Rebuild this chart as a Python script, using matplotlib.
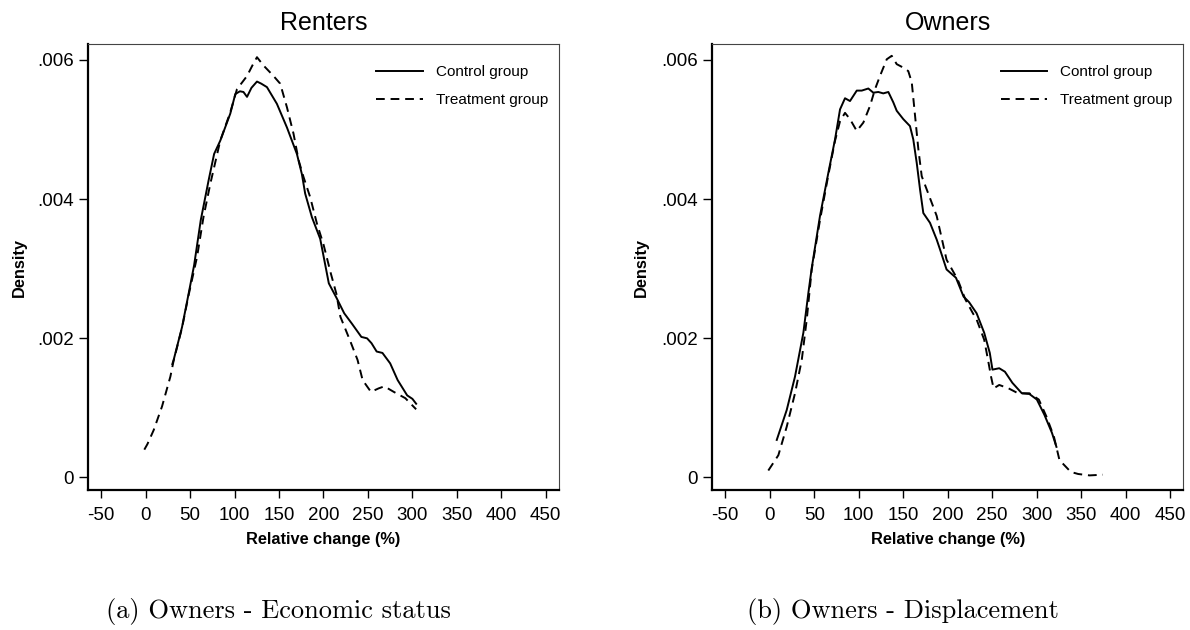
import matplotlib.pyplot as plt
import matplotlib.ticker as ticker

# ===== Kernel density curves: relative change (%) vs density =====
rent_ctrl_x = [30, 31.5, 40.9, 48.3, 54.5, 62, 70.8, 77, 83.9, 95.2, 100.8, 106, 110, 114,
               119, 125.2, 130, 136.4, 147.6, 158.9, 170.1, 175.7, 179.4, 187, 196.3, 206,
               214.7, 223.3, 232, 242.6, 249, 254, 259.8, 266.3, 275, 283.4, 294.1, 300, 304.2]
rent_ctrl_y = [0.00163, 0.00169, 0.00216, 0.00264, 0.00305, 0.00370, 0.00427, 0.00465, 0.00484,
               0.00523, 0.00551, 0.00555, 0.00554, 0.00547, 0.00560, 0.00569, 0.00566, 0.00561,
               0.00537, 0.00503, 0.00465, 0.00436, 0.00408, 0.00374, 0.00343, 0.00279, 0.00258,
               0.00236, 0.00221, 0.00202, 0.00200, 0.00193, 0.00181, 0.00179, 0.00164, 0.00140,
               0.00118, 0.00113, 0.00106]

rent_treat_x = [-1.5, 2, 9, 18.4, 27.8, 31.5, 40.9, 48.3, 57.8, 65, 72.7, 83.9, 95.2, 102.7,
                114, 120, 125.2, 132.6, 143.8, 151.3, 158.9, 166.3, 172, 177.5, 185, 192.6,
                200, 208.3, 214.5, 219, 229.8, 238.3, 244, 253.4, 261.9, 268.4, 279.1, 292, 304.2]
rent_treat_y = [0.00040, 0.00048, 0.00068, 0.00102, 0.00145, 0.00168, 0.00215, 0.00262, 0.00317,
                0.00374, 0.00422, 0.00484, 0.00525, 0.00558, 0.00577, 0.00592, 0.00604, 0.00592,
                0.00577, 0.00566, 0.00532, 0.00494, 0.00456, 0.00432, 0.00403, 0.00365, 0.00335,
                0.00293, 0.00264, 0.00231, 0.00197, 0.00169, 0.00140, 0.00123, 0.00128, 0.00131,
                0.00123, 0.00114, 0.00098]

own_ctrl_x = [7.9, 19.1, 28.4, 37.8, 43.4, 47.2, 56.5, 65.9, 73.4, 79, 84.6, 90.2, 97.8, 103.4,
              110.8, 116.4, 122, 127.6, 133.3, 138.9, 142.7, 150.1, 157.6, 161.3, 165.2, 168.9,
              172.6, 180.1, 187.6, 191.3, 198.7, 209.3, 217.8, 224, 232.5, 241, 247.3, 250.3,
              257.9, 264.3, 272.7, 283.3, 291.8, 300.2, 308.7, 317.2, 322.2]
own_ctrl_y = [0.00054, 0.00097, 0.00145, 0.00208, 0.00265, 0.00301, 0.00376, 0.00438, 0.00486,
              0.00529, 0.00545, 0.00541, 0.00556, 0.00556, 0.00559, 0.00553, 0.00554, 0.00552,
              0.00554, 0.00539, 0.00527, 0.00515, 0.00505, 0.00486, 0.00452, 0.00414, 0.00380,
              0.00366, 0.00342, 0.00328, 0.00299, 0.00287, 0.00260, 0.00252, 0.00236, 0.00208,
              0.00179, 0.00155, 0.00157, 0.00152, 0.00136, 0.00121, 0.00120, 0.00112, 0.00090,
              0.00064, 0.00044]

own_treat_x = [-1.6, 9.7, 19.1, 28.4, 36, 41.6, 47.2, 56.5, 65.9, 73.4, 79, 84.6, 90.2, 97.8,
               105.2, 112.7, 118.3, 123.9, 131.5, 137.1, 142.7, 150.1, 155.7, 159.6, 163.3, 167,
               170.8, 176.4, 182, 187.6, 198.7, 211.4, 219.8, 228.3, 232.5, 241, 245.3, 248.7,
               251.6, 257.9, 268.5, 279.1, 291.8, 302.4, 310.8, 319.3, 325.6, 338.3, 346.7,
               359.4, 374.3]
own_treat_y = [0.00010, 0.00032, 0.00073, 0.00121, 0.00169, 0.00227, 0.00299, 0.00370, 0.00435,
               0.00484, 0.00512, 0.00524, 0.00515, 0.00498, 0.00510, 0.00534, 0.00558, 0.00577,
               0.00601, 0.00606, 0.00594, 0.00589, 0.00584, 0.00568, 0.00520, 0.00472, 0.00433,
               0.00414, 0.00395, 0.00376, 0.00313, 0.00284, 0.00256, 0.00236, 0.00227, 0.00198,
               0.00169, 0.00145, 0.00128, 0.00133, 0.00128, 0.00121, 0.00121, 0.00112, 0.00088,
               0.00059, 0.00025, 0.00008, 0.00005, 0.00003, 0.00004]

x_ticks = list(range(-50, 451, 50))
y_ticks = [0, 0.002, 0.004, 0.006]
y_ticklabels = ["0", ".002", ".004", ".006"]

titles = ["Renters", "Owners"]
captions = ["(a) Owners - Economic status", "(b) Owners - Displacement"]

# ===== Styling =====
sans = ["Liberation Sans Narrow", "Liberation Sans", "DejaVu Sans"]
bold_font = ["Liberation Sans", "DejaVu Sans"]
dash = (4.5, 3)
lw = 1.4

fig = plt.figure(figsize=(11.9, 6.3), dpi=100)
ax_l = fig.add_axes([0.0742, 0.2222, 0.3955, 0.708])
ax_r = fig.add_axes([0.5986, 0.2222, 0.3958, 0.708])

panels = [
    (ax_l, rent_ctrl_x, rent_ctrl_y, rent_treat_x, rent_treat_y),
    (ax_r, own_ctrl_x, own_ctrl_y, own_treat_x, own_treat_y),
]

for i, (ax, cx, cy, tx, ty) in enumerate(panels):
    ax.plot(cx, cy, color="black", linewidth=lw, label="Control group")
    ax.plot(tx, ty, color="black", linewidth=lw, linestyle=(0, dash), label="Treatment group")

    ax.set_xlim(-64.5, 464.8)
    ax.set_ylim(-0.00018, 0.00623)
    ax.xaxis.set_major_locator(ticker.FixedLocator(x_ticks))
    ax.set_xticklabels([str(v) for v in x_ticks], fontsize=13.5, family=sans)
    ax.yaxis.set_major_locator(ticker.FixedLocator(y_ticks))
    ax.set_yticklabels(y_ticklabels, fontsize=13.5, family=sans)
    ax.tick_params(axis="x", direction="out", length=6, width=1.0, pad=6)
    ax.tick_params(axis="y", direction="out", length=6.5, width=1.0, pad=4)

    ax.spines["left"].set_linewidth(1.6)
    ax.spines["bottom"].set_linewidth(1.6)
    ax.spines["top"].set_linewidth(0.8)
    ax.spines["right"].set_linewidth(0.8)
    ax.spines["top"].set_color("#444444")
    ax.spines["right"].set_color("#444444")

    ax.set_title(titles[i], fontsize=18, family=sans, pad=10)
    ax.set_xlabel("Relative change (%)", fontsize=11.8, family=bold_font,
                  fontweight="bold", labelpad=6)

    ax.legend(loc="upper left", bbox_to_anchor=(0.612, 0.953), frameon=False,
              prop={"family": sans, "size": 11}, handlelength=3.05,
              handletextpad=0.85, labelspacing=0.95, borderpad=0, borderaxespad=0)

# ===== Y labels placed in figure coords =====
fig.text(0.016, 0.576, "Density", rotation=90, ha="center", va="center",
         fontsize=11.8, family=bold_font, fontweight="bold")
fig.text(0.5387, 0.576, "Density", rotation=90, ha="center", va="center",
         fontsize=11.8, family=bold_font, fontweight="bold")

# ===== Sub-figure captions =====
fig.text(0.2336, 0.029, captions[0], ha="center", va="center", fontsize=19, family="cmr10")
fig.text(0.7588, 0.029, captions[1], ha="center", va="center", fontsize=19, family="cmr10")

fig.savefig("out.png", dpi=100, facecolor="white")
